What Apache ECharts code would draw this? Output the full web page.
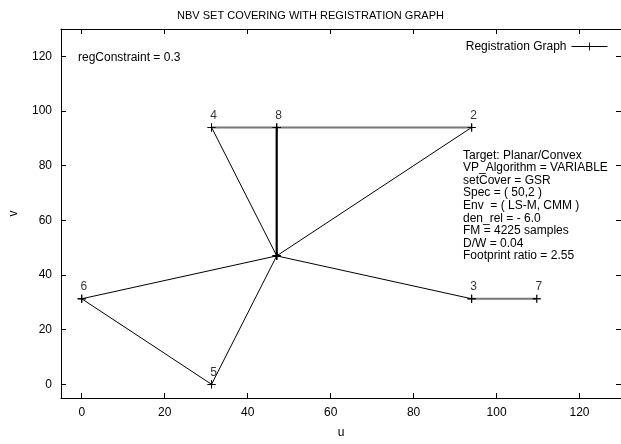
<!DOCTYPE html>
<html>
<head>
<meta charset="utf-8">
<script src="https://cdn.jsdelivr.net/npm/echarts@6/dist/echarts.min.js"></script>
<style>
  html, body { margin: 0; padding: 0; background: #fff; }
  #chart { width: 621px; height: 444px; }
</style>
</head>
<body>
<div id="chart"></div>
<script>
// nodes of the registration graph (u, v)
const nodeLabels = ['', '2', '3', '4', '5', '6', '7', '8'];
const nodeU = [47, 94, 94, 31.3, 31.3, 0, 109.7, 47];
const nodeV = [47, 94, 31.3, 94, 0, 31.3, 31.3, 94];

// edges by index into the node arrays
const thinEdges = [[0, 3], [0, 1], [0, 5], [0, 4], [0, 2], [5, 4]];
const grayEdges = [[3, 7], [7, 1], [2, 6]];
const boldEdges = [[7, 0]];

const tickValues = [0, 20, 40, 60, 80, 100, 120];
const infoLines = [
    'Target: Planar/Convex',
    'VP_Algorithm = VARIABLE',
    'setCover = GSR',
    'Spec = ( 50,2 )',
    'Env  = ( LS-M, CMM )',
    'den_rel = - 6.0',
    'FM = 4225 samples',
    'D/W = 0.04',
    'Footprint ratio = 2.55'
];

const font = 'Liberation Sans, Arial, sans-serif';
const plus = 'path://M4.45,0h1.1v4.45h4.45v1.1h-4.45v4.45h-1.1v-4.45h-4.45v-1.1h4.45z';

function edgeData(edges) {
    let out = [];
    edges.forEach(function (e, i) {
        if (i > 0) out.push([null, null]);
        out.push([nodeU[e[0]], nodeV[e[0]]]);
        out.push([nodeU[e[1]], nodeV[e[1]]]);
    });
    return out;
}

function edgeSeries(name, edges, color, width) {
    return {
        name: name,
        type: 'line',
        data: edgeData(edges),
        connectNulls: false,
        showSymbol: true,
        symbol: plus,
        symbolSize: 8,
        itemStyle: { color: '#000' },
        lineStyle: { color: color, width: width },
        silent: true,
        animation: false,
        z: width > 1 ? 3 : 2
    };
}

function makeAxis(pos, labels) {
    return {
        type: 'value', position: pos, min: -5, max: 130,
        axisLine: { show: true, onZero: false, lineStyle: { color: '#000', width: 1 } },
        axisTick: { show: true, inside: true, length: 5, customValues: tickValues, lineStyle: { color: '#000' } },
        axisLabel: { show: labels, customValues: tickValues, color: '#000', fontFamily: font, fontSize: 12, margin: 9 },
        splitLine: { show: false }
    };
}

let chart = echarts.init(document.getElementById('chart'));

let xBottom = makeAxis('bottom', true);
xBottom.name = 'u';
xBottom.nameLocation = 'middle';
xBottom.nameGap = 29;
xBottom.nameTextStyle = { color: '#000', fontFamily: font, fontSize: 12 };
let yLeft = makeAxis('left', true);
yLeft.name = 'v';
yLeft.nameLocation = 'middle';
yLeft.nameGap = 41;
yLeft.nameRotate = 90;
yLeft.nameTextStyle = { color: '#000', fontFamily: font, fontSize: 12 };

let nodeData = nodeU.map(function (u, i) {
    return { value: [u, nodeV[i]], label: { show: nodeLabels[i] !== '' } };
});

let option = {
    backgroundColor: '#fff',
    animation: false,
    title: {
        text: 'NBV SET COVERING WITH REGISTRATION GRAPH',
        left: 'center', top: 5,
        textStyle: { color: '#000', fontFamily: font, fontSize: 11, fontWeight: 'normal' }
    },
    legend: {
        data: ['Registration Graph'],
        right: 8, top: 35.5,
        align: 'right',
        itemWidth: 36, itemHeight: 10, itemGap: 8,
        lineStyle: { color: '#000', width: 1 },
        textStyle: { color: '#000', fontFamily: font, fontSize: 12 }
    },
    grid: { left: 55, right: 0, top: 29, bottom: 38, show: false },
    xAxis: [xBottom, makeAxis('top', false)],
    yAxis: [yLeft, makeAxis('right', false)],
    graphic: [
        {
            type: 'text', left: 78, top: 52,
            style: { text: 'regConstraint = 0.3', fill: '#000', font: '12px ' + font }
        },
        {
            type: 'text', left: 463, top: 149,
            style: { text: infoLines.join('\n'), fill: '#000', font: '12px ' + font, lineHeight: 12.6 }
        }
    ],
    series: [
        edgeSeries('Registration Graph', thinEdges, '#000', 1),
        edgeSeries('graph-gray', grayEdges, '#777', 2),
        edgeSeries('graph-bold', boldEdges, '#000', 2.2),
        {
            name: 'nodes',
            type: 'scatter',
            data: nodeData,
            symbol: plus,
            symbolSize: 8,
            itemStyle: { color: '#000' },
            label: {
                position: 'top', distance: 2, offset: [2, 0],
                formatter: function (p) { return nodeLabels[p.dataIndex]; },
                color: '#000', fontFamily: font, fontSize: 12
            },
            silent: true,
            z: 4
        }
    ]
};
chart.setOption(option);
</script>
</body>
</html>
